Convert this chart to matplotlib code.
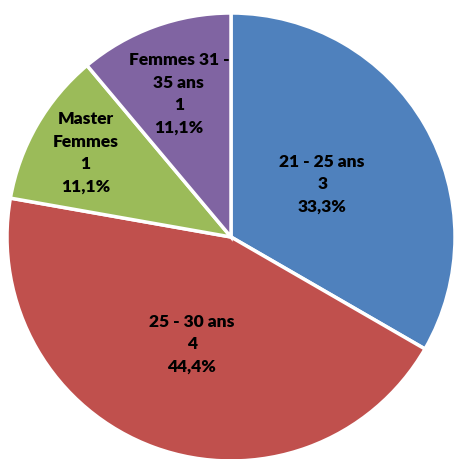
import matplotlib
matplotlib.use("Agg")
import matplotlib.pyplot as plt
import numpy as np

categories = ["21 - 25 ans", "25 - 30 ans", "Master\nFemmes", "Femmes 31 -\n35 ans"]
values = [3, 4, 1, 1]
colors = ["#4F81BD", "#C0504D", "#9BBB59", "#8064A2"]
label_dist = [0.47, 0.51, 0.75, 0.68]
explode = [0.025, 0, 0, 0]

plt.rcParams['font.family'] = ['Lato', 'DejaVu Sans']

fig = plt.figure(figsize=(4.57, 4.59), dpi=100)
ax = fig.add_axes([0, 0, 1, 1])

cx, cy, R = 231, 222, 224
wedges, _ = ax.pie(values, colors=colors, startangle=90, counterclock=False,
                   center=(cx, cy), radius=R, explode=explode,
                   wedgeprops=dict(edgecolor='white', linewidth=2.5), frame=True)
ax.set_xlim(0, 457)
ax.set_ylim(0, 459)
ax.set_aspect('equal')
ax.axis('off')

total = sum(values)
for w, cat, v, d in zip(wedges, categories, values, label_dist):
    ang = np.deg2rad((w.theta1 + w.theta2) / 2)
    x = w.center[0] + d * R * np.cos(ang)
    y = w.center[1] + d * R * np.sin(ang)
    pct = f"{100 * v / total:.1f}".replace(".", ",") + "%"
    ax.text(x, y, f"{cat}\n{v}\n{pct}", ha='center', va='center',
            fontsize=12.5, fontweight='heavy', color='black', linespacing=1.5)

fig.savefig("out.png", dpi=100)
